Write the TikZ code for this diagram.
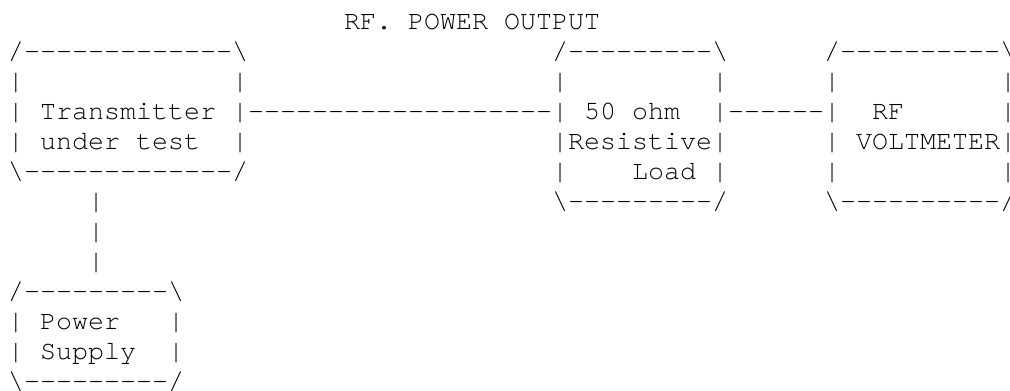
\documentclass[tikz,border=0pt]{standalone}
\usepackage{fontspec}
\setmonofont{TeX Gyre Cursor}
\newcommand\bs{\textbackslash}
\tikzset{asc/.style={anchor=base west, inner sep=0pt, outer sep=0pt,
  font=\ttfamily\fontsize{26.667pt}{30pt}\selectfont}}
% place text at grid column #2, row #3
\newcommand\ascat[4]{\node[asc] (#1) at ({#2+0.5},{#3+0.9833}) {#4};}
\begin{document}
\begin{tikzpicture}[x=16pt,y=-30pt]
\useasboundingbox (0pt,0pt) rectangle (1010pt,-391pt);
% title
\ascat{title}{21}{0}{RF. POWER OUTPUT}
% transmitter box
\ascat{txa}{0}{1}{/-------------\bs}
\ascat{txbl}{0}{2}{|}\ascat{txbr}{14}{2}{|}
\ascat{txcl}{0}{3}{|}\ascat{txc}{2}{3}{Transmitter}\ascat{txcr}{14}{3}{|}
\ascat{txdl}{0}{4}{|}\ascat{txd}{2}{4}{under test}\ascat{txdr}{14}{4}{|}
\ascat{txe}{0}{5}{\bs-------------/}
% connector transmitter -> load
\ascat{c1}{15}{3}{-------------------}
% load box
\ascat{lda}{34}{1}{/---------\bs}
\ascat{ldbl}{34}{2}{|}\ascat{ldbr}{44}{2}{|}
\ascat{ldcl}{34}{3}{|}\ascat{ldc}{36}{3}{50 ohm}\ascat{ldcr}{44}{3}{|}
\ascat{lddl}{34}{4}{|}\ascat{ldd}{35}{4}{Resistive}\ascat{lddr}{44}{4}{|}
\ascat{ldel}{34}{5}{|}\ascat{lde}{39}{5}{Load}\ascat{lder}{44}{5}{|}
\ascat{ldf}{34}{6}{\bs---------/}
% connector load -> voltmeter
\ascat{c2}{45}{3}{------}
% voltmeter box
\ascat{vma}{51}{1}{/----------\bs}
\ascat{vmbl}{51}{2}{|}\ascat{vmbr}{62}{2}{|}
\ascat{vmcl}{51}{3}{|}\ascat{vmc}{54}{3}{RF}\ascat{vmcr}{62}{3}{|}
\ascat{vmdl}{51}{4}{|}\ascat{vmd}{53}{4}{VOLTMETER}\ascat{vmdr}{62}{4}{|}
\ascat{vmel}{51}{5}{|}\ascat{vmer}{62}{5}{|}
\ascat{vmf}{51}{6}{\bs----------/}
% connector transmitter -> power supply
\ascat{c3a}{5}{6}{|}
\ascat{c3b}{5}{7}{|}
\ascat{c3c}{5}{8}{|}
% power supply box
\ascat{psa}{0}{9}{/---------\bs}
\ascat{psbl}{0}{10}{|}\ascat{psb}{2}{10}{Power}\ascat{psbr}{10}{10}{|}
\ascat{pscl}{0}{11}{|}\ascat{psc}{2}{11}{Supply}\ascat{pscr}{10}{11}{|}
\ascat{psd}{0}{12}{\bs---------/}
\end{tikzpicture}
\end{document}
